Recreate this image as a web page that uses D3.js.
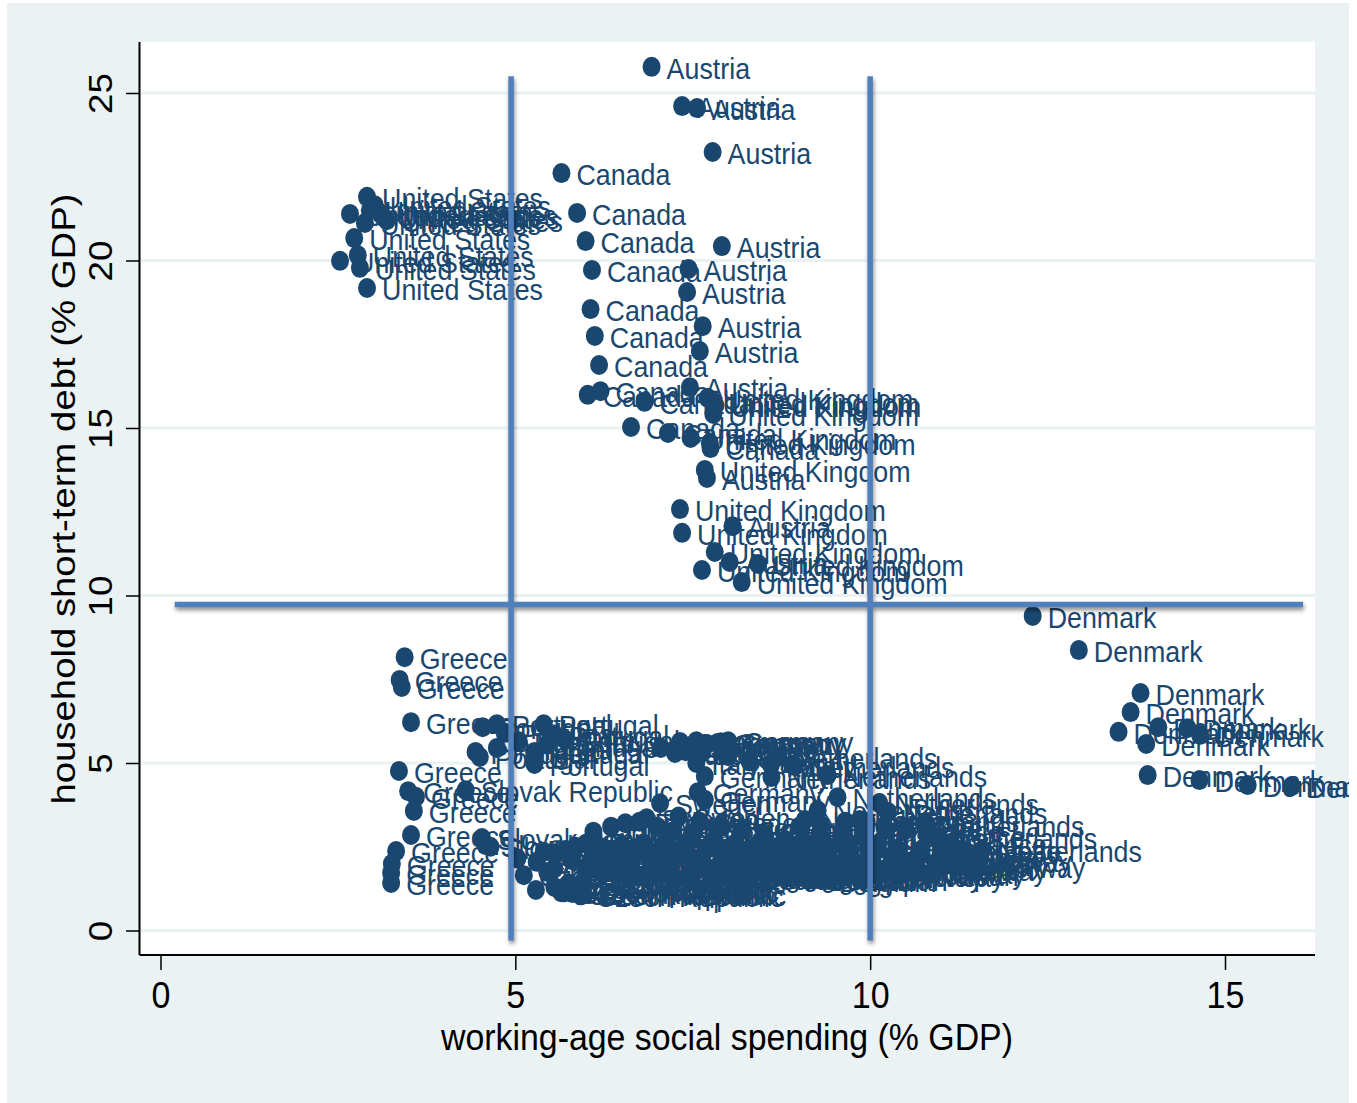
<!DOCTYPE html>
<html>
<head>
<meta charset="utf-8">
<script src="https://d3js.org/d3.v7.min.js"></script>
<style>
    body { margin: 0; background: #fff; }
    text { font-family: "Liberation Sans", Arial, sans-serif; }
</style>
</head>
<body>
<div id="chart"></div>
<script>
// values are [social spending, short-term debt]
const austria = [[6.92,25.78],[7.35,24.61],[7.56,24.55],[7.78,23.24],[7.91,20.43],[7.44,19.75],[7.42,19.06],[7.64,18.04],[7.60,17.30],[7.46,16.22],[7.70,13.51],[8.06,12.07],[8.02,11.00]];
const canada = [[5.65,22.61],[5.87,21.42],[5.99,20.58],[6.08,19.72],[6.06,18.55],[6.12,17.75],[6.18,16.88],[6.20,16.10],[6.02,15.99],[6.82,15.78],[6.63,15.03],[7.15,14.85],[7.75,14.40]];
const unitedKingdom = [[7.71,15.90],[7.79,15.78],[7.82,15.68],[7.79,15.42],[7.47,14.70],[7.74,14.55],[7.67,13.75],[7.32,12.58],[7.35,11.87],[7.81,11.30],[8.42,10.94],[7.63,10.76],[8.19,10.40]];
const unitedStates = [[2.91,21.90],[3.02,21.65],[2.67,21.39],[2.88,21.12],[3.19,21.20],[2.95,21.50],[3.10,21.40],[3.14,21.30],[2.73,20.67],[2.78,20.16],[2.53,19.99],[2.81,19.78],[2.91,19.18]];
const denmark = [[12.29,9.39],[12.94,8.37],[13.81,7.09],[13.67,6.52],[13.50,5.93],[14.06,6.07],[14.47,6.04],[14.65,5.84],[13.89,5.57],[13.91,4.64],[14.64,4.49],[15.32,4.34],[15.94,4.31]];
const greece = [[3.44,8.16],[3.37,7.48],[3.40,7.27],[3.53,6.22],[3.36,4.76],[3.49,4.16],[3.60,3.99],[3.57,3.57],[3.53,2.85],[3.32,2.37],[3.26,1.99],[3.25,1.72],[3.25,1.42]];
const slovakRepublic = [[4.30,4.19],[4.53,2.76],[4.58,2.55],[4.65,2.50],[5.40,2.35],[5.55,2.30],[5.70,2.40],[5.85,2.50],[6.00,2.60]];
const portugal = [[4.54,6.07],[4.74,6.16],[5.40,6.16],[4.85,5.90],[4.44,5.33],[4.50,5.18],[4.74,5.45],[5.27,4.97],[5.27,5.33],[5.05,5.65],[5.55,5.85],[5.70,5.70],[5.45,5.55]];
const germany = [[7.32,5.63],[7.67,5.55],[8.00,5.65],[7.85,5.60],[7.55,5.65],[7.45,5.50],[7.67,4.61],[7.57,4.13],[7.67,3.90],[7.90,5.62],[7.40,5.35],[7.28,5.45],[7.05,5.45]];
const italy = [[7.25,5.30],[7.55,5.00],[7.62,5.30],[8.00,5.20],[8.30,5.05],[8.90,4.95],[8.60,4.95]];
const netherlands = [[8.70,5.18],[8.94,4.91],[8.61,4.58],[9.40,4.64],[9.54,3.98],[10.25,3.54],[10.95,2.79],[11.58,2.40],[10.13,3.80],[10.77,3.15],[9.85,3.30],[9.08,3.30],[9.26,3.59]];
const sweden = [[7.04,3.80],[6.85,3.35],[7.30,3.40],[7.60,3.25],[7.90,3.10],[8.20,3.00],[8.50,2.90],[8.80,2.70],[9.10,2.60],[9.40,2.50],[9.70,2.40],[10.00,2.30],[10.30,2.20]];
const finland = [[6.10,2.95],[6.35,3.10],[6.55,3.20],[6.75,3.25],[7.00,3.10],[7.20,2.95],[7.50,2.80],[7.80,2.70],[8.10,2.60],[8.40,2.50],[8.70,2.40],[9.00,2.30],[9.30,2.20]];
const france = [[9.00,3.10],[9.30,3.15],[9.65,3.25],[9.95,3.25],[10.20,3.10],[10.50,3.00],[10.80,2.85],[11.10,2.60],[11.30,2.40],[11.00,2.20],[10.70,2.30],[10.40,2.40],[10.10,2.50]];
const belgium = [[9.36,1.50],[9.20,1.55],[9.00,1.60],[8.80,1.60],[8.55,1.65],[8.30,1.70],[8.05,1.65],[9.30,1.95],[9.05,2.00],[8.80,2.10],[8.55,2.15],[8.30,2.20],[8.05,2.10]];
const norway = [[11.54,1.92],[11.35,2.10],[11.20,2.25],[10.95,2.05],[10.65,2.05],[10.30,2.00],[10.00,2.10],[9.70,2.15],[9.40,1.90],[10.10,1.65],[10.40,1.65],[10.70,1.75],[11.00,1.85]];
const japan = [[9.60,1.60],[9.85,1.55],[9.95,1.85],[10.20,1.80],[10.50,1.85],[10.85,1.70],[11.15,2.00],[9.65,2.00],[9.00,1.90],[8.75,1.85],[8.45,1.90],[8.15,1.85],[7.80,1.75]];
const newZealand = [[7.43,1.57],[7.20,1.60],[7.00,1.70],[6.80,1.65],[6.60,1.60],[6.40,1.70],[6.20,1.75],[6.00,1.80],[6.30,2.05],[6.60,2.05],[6.90,2.05],[7.20,1.95],[7.50,1.85]];
const ireland = [[6.20,2.40],[6.50,2.55],[6.80,2.60],[7.10,2.60],[7.40,2.55],[7.70,2.45],[8.00,2.35],[8.30,2.35],[8.60,2.50],[9.00,2.55],[9.30,2.75],[9.60,2.85],[9.90,2.80]];
const spain = [[5.30,2.05],[5.55,1.85],[5.80,2.10],[6.10,2.20],[6.40,2.30],[6.70,2.35],[7.00,2.30],[7.30,2.25],[7.60,2.10],[7.90,2.05],[8.20,2.15],[8.50,2.15],[8.80,2.45]];
const czechRepublic = [[5.29,1.21],[5.12,1.65],[5.03,2.15],[5.68,1.14],[5.80,1.12],[5.92,1.05],[5.96,1.08],[5.86,1.20],[5.70,1.30],[5.55,1.30],[5.75,1.40],[5.95,1.45],[5.45,1.75]];

const countries = [
    ["Austria", austria], ["Canada", canada], ["United Kingdom", unitedKingdom],
    ["United States", unitedStates], ["Denmark", denmark], ["Greece", greece],
    ["Slovak Republic", slovakRepublic], ["Portugal", portugal], ["Germany", germany],
    ["Italy", italy], ["Netherlands", netherlands], ["Sweden", sweden], ["Finland", finland],
    ["France", france], ["Belgium", belgium], ["Norway", norway], ["Japan", japan],
    ["New Zealand", newZealand], ["Ireland", ireland], ["Spain", spain], ["Czech Republic", czechRepublic]
];

const xTicks = [0, 5, 10, 15];
const yTicks = [0, 5, 10, 15, 20, 25];
const verticalRefs = [4.94, 10.0];
const horizontalRef = 9.73;
const verticalRefSpan = [-0.3, 25.5];
const horizontalRefSpan = [0.2, 16.1];

const ink = "#1a476f";
const panel = "#eaf2f3";
const refColor = "#5080bc";

const margin = { top: 42, left: 139.5, right: 1315, bottom: 955 };

const svg = d3.select("#chart")
    .append("svg")
    .attr("width", 1357)
    .attr("height", 1103);

svg.append("clipPath").attr("id", "panel-clip")
    .append("rect").attr("x", 7).attr("y", 3).attr("width", 1342).attr("height", 1100);

svg.append("rect").attr("x", 7).attr("y", 3).attr("width", 1342).attr("height", 1100).attr("fill", panel);
svg.append("rect")
    .attr("x", margin.left).attr("y", margin.top)
    .attr("width", margin.right - margin.left)
    .attr("height", margin.bottom - margin.top)
    .attr("fill", "#fff");

/* scales: 0 sits at 160.5 / 930.5 */
const x = d3.scaleLinear().domain([0, 15]).range([160.5, 1225]);
const y = d3.scaleLinear().domain([0, 25]).range([930.5, 93]);

/* grid */
svg.append("g")
    .selectAll("line")
    .data(yTicks)
    .enter()
    .append("line")
    .attr("x1", margin.left).attr("x2", margin.right)
    .attr("y1", d => y(d)).attr("y2", d => y(d))
    .attr("stroke", panel).attr("stroke-width", 3);

/* axes */
const xAxis = svg.append("g")
    .attr("transform", `translate(0, ${margin.bottom})`)
    .call(d3.axisBottom(x).tickValues(xTicks).tickSize(15).tickFormat(d3.format("d")));
xAxis.select(".domain").attr("d", `M${margin.left},0H${margin.right}`).attr("stroke", "#000").attr("stroke-width", 2);
xAxis.selectAll("line").attr("stroke", "#000").attr("stroke-width", 1.5);
// the picture is stretched a little upright, so glyphs get taller than wide
xAxis.selectAll("text")
    .attr("font-size", 37)
    .attr("fill", "#000")
    .attr("y", 0)
    .attr("dy", 0)
    .attr("transform", "translate(0, 53) scale(0.92, 1)");

const yAxis = svg.append("g")
    .attr("transform", `translate(${margin.left}, 0)`)
    .call(d3.axisLeft(y).tickValues(yTicks).tickSize(13.5).tickFormat(d3.format("d")));
yAxis.select(".domain").attr("d", `M0,${margin.top}V${margin.bottom}`).attr("stroke", "#000").attr("stroke-width", 2);
yAxis.selectAll("line").attr("stroke", "#000").attr("stroke-width", 1.5);
yAxis.selectAll("text")
    .attr("font-size", 34)
    .attr("fill", "#000")
    .attr("text-anchor", "middle")
    .attr("dy", 0)
    .attr("x", 0)
    .attr("y", 0)
    .attr("transform", "translate(-27.5, 0) rotate(-90) scale(1.08, 1)");

svg.append("text")
    .attr("transform", "translate(727, 1050) scale(0.915, 1)")
    .attr("text-anchor", "middle")
    .attr("font-size", 37)
    .attr("fill", "#000")
    .text("working-age social spending (% GDP)");

svg.append("text")
    .attr("transform", "translate(75, 499) rotate(-90) scale(1.127, 1)")
    .attr("text-anchor", "middle")
    .attr("font-size", 34)
    .attr("fill", "#000")
    .text("household short-term debt (% GDP)");

/* points and labels, same colour so order does not matter much */
const points = countries.flatMap(([name, values]) => values.map(v => ({ name, sx: v[0], debt: v[1] })));

svg.append("g")
    .selectAll("ellipse")
    .data(points)
    .enter()
    .append("ellipse")
    .attr("cx", d => x(d.sx))
    .attr("cy", d => y(d.debt))
    .attr("rx", 9)
    .attr("ry", 10)
    .attr("fill", ink);

svg.append("g")
    .attr("clip-path", "url(#panel-clip)")
    .selectAll("text")
    .data(points)
    .enter()
    .append("text")
    .attr("transform", d => `translate(${x(d.sx) + 15}, ${y(d.debt) + 12}) scale(0.925, 1)`)
    .attr("font-size", 29)
    .attr("fill", ink)
    .text(d => d.name);

/* reference lines with the soft shadow */
const refs = svg.append("g").style("filter", "drop-shadow(1px 3px 2px rgba(0,0,0,0.45))");

refs.selectAll("line.v")
    .data(verticalRefs)
    .enter()
    .append("line")
    .attr("class", "v")
    .attr("x1", d => x(d)).attr("x2", d => x(d))
    .attr("y1", y(verticalRefSpan[1])).attr("y2", y(verticalRefSpan[0]))
    .attr("stroke", refColor).attr("stroke-width", 5.5);

refs.append("line")
    .attr("x1", x(horizontalRefSpan[0])).attr("x2", x(horizontalRefSpan[1]))
    .attr("y1", y(horizontalRef)).attr("y2", y(horizontalRef))
    .attr("stroke", refColor).attr("stroke-width", 5.5);
</script>
</body>
</html>
